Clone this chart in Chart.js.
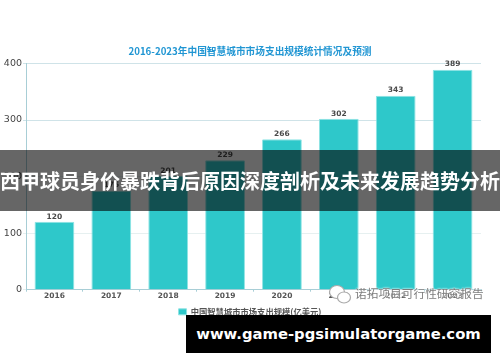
<!DOCTYPE html>
<html lang="zh">
<head>
  <meta charset="UTF-8" />
  <title>西甲球员身价暴跌背后原因深度剖析及未来发展趋势分析</title>
  <script src="https://cdn.jsdelivr.net/npm/chart.js"></script>
  <style>
    html, body { margin: 0; padding: 0; background: #fff; }
    #wrap { position: relative; width: 500px; height: 362px; overflow: hidden; }
    #chart { position: absolute; left: 0; top: 0; filter: blur(0.35px); }
    #band { position: absolute; left: 0; top: 150px; width: 500px; height: 61px; background: rgba(0,0,0,0.6); color: #fff;
      font: bold 20px/61px "Noto Sans CJK SC", sans-serif; text-align: center; white-space: nowrap; }
    #mark { position: absolute; left: 355px; top: 284px; color: #7d7d7d; font: 11.7px/18px "Noto Sans CJK SC", sans-serif; white-space: nowrap;
      text-shadow: 0 0 2px #fff, 0 0 2px #fff; }
    #icon { position: absolute; left: 328px; top: 284px; }
    #site { position: absolute; left: 186px; top: 315px; width: 305px; height: 38px; background: #000; color: #fff;
      font: bold 14.8px/37px "DejaVu Sans", sans-serif; text-align: center; white-space: nowrap; }
  </style>
</head>
<body>
  <div id="wrap">
    <canvas id="chart" width="500" height="362"></canvas>
    <svg id="icon" width="24" height="21" viewBox="0 0 24 21">
      <ellipse cx="9" cy="8" rx="7.5" ry="6.5" fill="#fff" stroke="#aaa" stroke-width="1.2"/>
      <ellipse cx="16" cy="13.5" rx="6.5" ry="5.5" fill="#fff" stroke="#aaa" stroke-width="1.2"/>
    </svg>
    <div id="mark">诺拓项目可行性研究报告</div>
    <div id="band">西甲球员身价暴跌背后原因深度剖析及未来发展趋势分析</div>
    <div id="site">www.game-pgsimulatorgame.com</div>
  </div>

  <script>
    const years = ['2016', '2017', '2018', '2019', '2020', '2021', '2022', '2023'];
    const spending = [120, 175, 201, 229, 266, 302, 343, 389];
    const yTicks = [0, 100, 200, 300, 400];
    const chartTitle = '2016-2023年中国智慧城市市场支出规模统计情况及预测';
    const seriesName = '中国智慧城市市场支出规模(亿美元)';

    // value labels above each bar
    const barLabels = {
      id: 'barLabels',
      afterLayout(chart) {
        // title and legend are centred on the whole canvas, not the plot
        chart.titleBlock.right = chart.width;
        chart.legend.right = chart.width;
      },
      afterDatasetsDraw(chart) {
        const ctx = chart.ctx;
        ctx.save();
        ctx.font = 'bold 7.5px "DejaVu Sans"';
        ctx.fillStyle = '#4a4a4a';
        ctx.textAlign = 'center';
        ctx.textBaseline = 'bottom';
        chart.getDatasetMeta(0).data.forEach((bar, i) => {
          ctx.fillText(spending[i], bar.x, bar.y - 1.5);
        });
        ctx.restore();
      }
    };

    new Chart(document.getElementById('chart'), {
      type: 'bar',
      data: {
        labels: years,
        datasets: [{
          label: seriesName,
          data: spending,
          backgroundColor: '#2ec8ca',
          borderColor: '#8ee4e4',
          borderWidth: 1,
          borderRadius: 1,
          barPercentage: 0.7,
          categoryPercentage: 1
        }]
      },
      options: {
        responsive: false,
        animation: false,
        layout: { padding: { left: 0, right: 19, top: 0, bottom: 36 } },
        plugins: {
          title: {
            display: true,
            text: chartTitle,
            color: '#2196d3',
            font: { family: '"Noto Sans CJK SC"', size: 9.7, weight: 'bold' },
            padding: { top: 45.5, bottom: 6.3 }
          },
          legend: {
            position: 'bottom',
            labels: {
              color: '#555',
              font: { family: '"Noto Sans CJK SC"', size: 8.3, weight: 'bold' },
              boxWidth: 8,
              boxHeight: 6,
              padding: 5
            }
          },
          tooltip: { enabled: false }
        },
        scales: {
          x: {
            border: { color: '#a8ced6' },
            grid: { drawOnChartArea: false, color: '#a8ced6', tickLength: 2 },
            ticks: { color: '#555', font: { family: '"DejaVu Sans"', size: 7.5, weight: 'bold' }, padding: 0 },
            afterFit(scale) { scale.height = 13; }
          },
          y: {
            min: 0,
            max: 400,
            afterBuildTicks(scale) { scale.ticks = yTicks.map(v => ({ value: v })); },
            border: { color: '#a8ced6' },
            grid: {
              color: ctx => ctx.tick.value >= 300 ? '#cfe3e8' : '#e6f0f0',
              tickLength: 3
            },
            ticks: { color: '#444', font: { family: '"DejaVu Sans"', size: 9.5 }, padding: 1 },
            afterFit(scale) { scale.width = 26; }
          }
        }
      },
      plugins: [barLabels]
    });
  </script>
</body>
</html>
